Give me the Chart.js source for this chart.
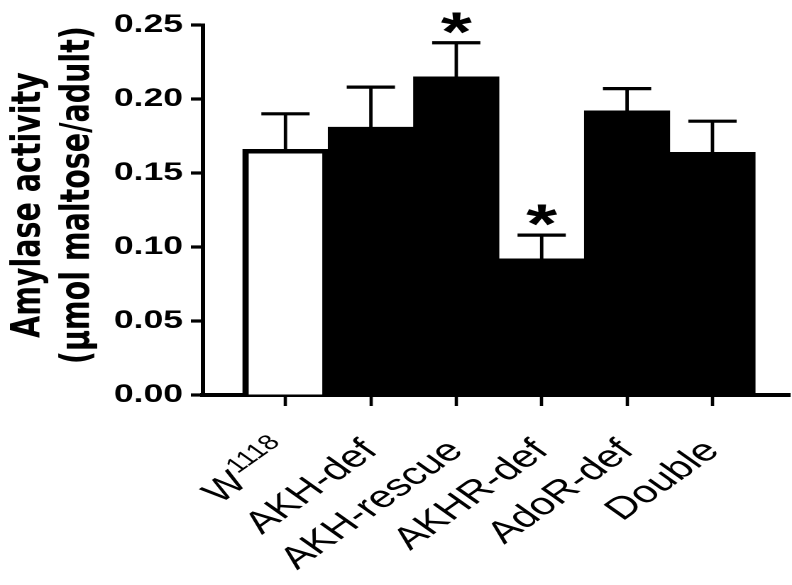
<!DOCTYPE html>
<html>
<head>
<meta charset="utf-8">
<title>Amylase activity</title>
<script src="https://cdn.jsdelivr.net/npm/chart.js@4.4.0/dist/chart.umd.min.js"></script>
<style>
  html, body { margin: 0; padding: 0; background: #fff; overflow: hidden; }
  /* the figure is drawn narrow and widened as a whole */
  #wrap { width: 558px; height: 585px; transform: scaleX(1.41935); transform-origin: 0 0; }
</style>
</head>
<body>
<div id="wrap"><canvas id="amylaseChart" width="558" height="585"></canvas></div>
<script>
// Amylase activity per genotype, mean + SEM
const genotypes = ["W1118", "AKH-def", "AKH-rescue", "AKHR-def", "AdoR-def", "Double"];
const activity = [0.166, 0.181, 0.215, 0.092, 0.192, 0.164];
const sem = [0.024, 0.027, 0.023, 0.016, 0.015, 0.021];
const significant = [false, false, true, true, false, false];
const barFill = ["#ffffff", "#000000", "#000000", "#000000", "#000000", "#000000"];
const yTicks = [0, 0.05, 0.10, 0.15, 0.20, 0.25];

const ARIAL = '"Liberation Sans", Arial, sans-serif';
const LABEL_SIZE = 31;
const LABEL_PAD = 27;
const TICK_LEN_X = 11;

// upward error bars + asterisks for significant groups
const errorBars = {
    id: "errorBars",
    afterDatasetsDraw(chart) {
        const { ctx, scales: { x, y } } = chart;
        ctx.save();
        ctx.strokeStyle = "#000";
        ctx.fillStyle = "#000";
        activity.forEach((v, i) => {
            const px = x.getPixelForValue(i);
            const top = y.getPixelForValue(v);
            const end = y.getPixelForValue(v + sem[i]);

            ctx.lineWidth = 2.4;
            ctx.beginPath();
            ctx.moveTo(px, top);
            ctx.lineTo(px, end);
            ctx.stroke();

            ctx.lineWidth = 3.2;
            ctx.beginPath();
            ctx.moveTo(px - 17, end);
            ctx.lineTo(px + 17, end);
            ctx.stroke();

            if (significant[i]) {
                ctx.font = "bold 56px " + ARIAL;
                ctx.textAlign = "center";
                ctx.textBaseline = "alphabetic";
                const m = ctx.measureText("*");
                ctx.fillText("*", px, end - 9 - m.actualBoundingBoxDescent);
            }
        });
        ctx.restore();
    }
};

// first category label has a superscript allele number (W + 1118)
const superLabel = {
    id: "superLabel",
    afterDraw(chart) {
        const { ctx } = chart;
        const xs = chart.scales.x;
        const lh = LABEL_SIZE * 1.2;
        const rot = -Math.PI / 4;
        const ax = xs.getPixelForValue(0) + (lh / 2) * Math.sin(rot);
        const ay = xs.top + TICK_LEN_X + LABEL_PAD;
        const base = genotypes[0].slice(0, 1);
        const sup = genotypes[0].slice(1);

        ctx.save();
        ctx.translate(ax, ay);
        ctx.rotate(rot);
        ctx.fillStyle = "#000";
        ctx.textAlign = "right";
        ctx.textBaseline = "middle";
        ctx.font = "21px " + ARIAL;
        const supW = ctx.measureText(sup).width;
        ctx.fillText(sup, 0, lh / 2 - 10);
        ctx.font = LABEL_SIZE + "px " + ARIAL;
        ctx.fillText(base, -supW - 1, lh / 2);
        ctx.restore();
    }
};

new Chart(document.getElementById("amylaseChart"), {
    type: "bar",
    data: {
        datasets: [{
            data: activity.map((v, i) => ({ x: i, y: v })),
            backgroundColor: barFill,
            borderColor: "#000",
            borderWidth: 4.5,
            barPercentage: 1,
            categoryPercentage: 1
        }]
    },
    options: {
        responsive: false,
        animation: false,
        devicePixelRatio: 2,
        layout: { padding: { top: 25, left: 0, right: 1.4, bottom: 0 } },
        plugins: {
            legend: { display: false },
            tooltip: { enabled: false }
        },
        scales: {
            x: {
                type: "linear",
                min: -0.966,
                max: 5.908,
                offset: false,
                afterBuildTicks: axis => {
                    axis.ticks = genotypes.map((g, i) => ({ value: i }));
                },
                afterFit: axis => {
                    axis.height = 190;
                },
                grid: {
                    offset: false,
                    drawOnChartArea: false,
                    drawTicks: true,
                    tickLength: TICK_LEN_X,
                    tickWidth: 2.3,
                    tickColor: "#000"
                },
                border: { display: true, color: "#000", width: 4 },
                ticks: {
                    autoSkip: false,
                    minRotation: 45,
                    maxRotation: 45,
                    padding: LABEL_PAD,
                    color: "#000",
                    font: { family: ARIAL, size: LABEL_SIZE },
                    callback: v => (v === 0 ? "" : genotypes[v] ?? "")
                }
            },
            y: {
                min: 0,
                max: 0.25,
                afterBuildTicks: axis => {
                    axis.ticks = yTicks.map(v => ({ value: v }));
                },
                afterFit: axis => {
                    axis.width = 143;
                },
                grid: {
                    drawOnChartArea: false,
                    tickLength: 8.5,
                    tickWidth: 3.2,
                    tickColor: "#000"
                },
                border: { display: true, color: "#000", width: 3 },
                ticks: {
                    padding: 5.6,
                    color: "#000",
                    font: { family: ARIAL, size: 25, weight: "bold" },
                    callback: v => v.toFixed(2)
                },
                title: {
                    display: true,
                    // leading spaces nudge each line upward a little
                    text: [" Amylase activity", "   (µmol maltose/adult)"],
                    color: "#000",
                    font: { family: '"DejaVu Sans", sans-serif', size: 28.5, weight: "bold", lineHeight: 1.214 },
                    padding: { top: 3.1, bottom: 4 }
                }
            }
        }
    },
    plugins: [errorBars, superLabel]
});
</script>
</body>
</html>
